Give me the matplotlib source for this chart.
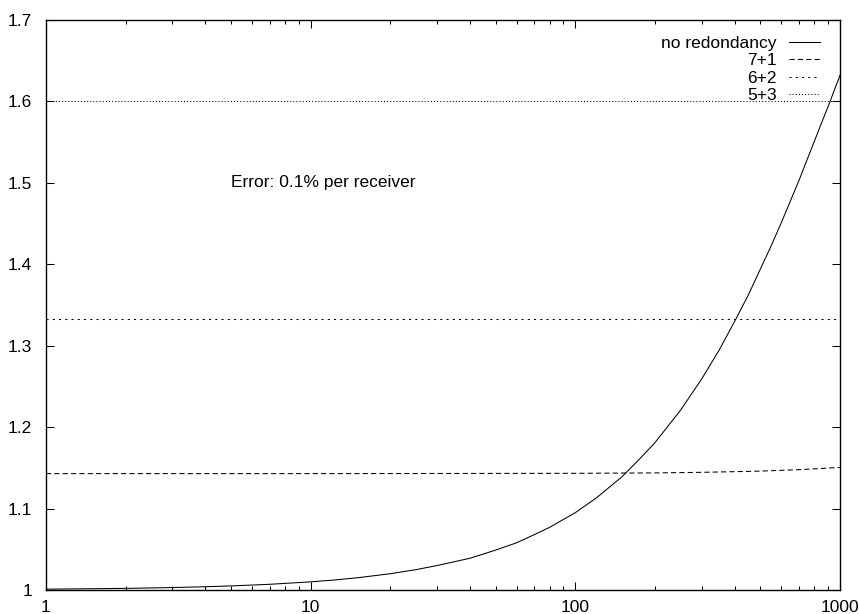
import matplotlib
matplotlib.use('Agg')
import matplotlib.pyplot as plt
from matplotlib.ticker import LogLocator, FixedLocator, NullFormatter

plt.rcParams['font.family'] = ['Liberation Sans', 'DejaVu Sans']
plt.rcParams['font.size'] = 12.5

# values
receivers = [1, 2, 3, 4, 5, 7, 10, 12, 15, 20, 25, 30, 40, 50, 60, 70, 80,
             100, 120, 150, 175, 200, 250, 300, 350, 400, 450, 500, 550,
             600, 650, 700, 750, 800, 850, 900, 950, 1000]
no_redundancy = [1.001, 1.002, 1.003, 1.004, 1.005, 1.007, 1.010, 1.012,
                 1.015, 1.020, 1.025, 1.030, 1.039, 1.049, 1.058, 1.068,
                 1.077, 1.095, 1.113, 1.139, 1.161, 1.181, 1.221, 1.259,
                 1.295, 1.330, 1.362, 1.394, 1.423, 1.451, 1.478, 1.503,
                 1.528, 1.551, 1.573, 1.593, 1.613, 1.632]

receivers_71 = [1, 10, 100, 200, 300, 500, 700, 1000]
red_7_1 = [1.1429, 1.1429, 1.1433, 1.1438, 1.1445, 1.1460, 1.1478, 1.1505]

receivers_flat = [1, 1000]
red_6_2 = [1.3333, 1.3333]
red_5_3 = [1.6, 1.6]

labels = ["no redondancy", "7+1", "6+2", "5+3"]
y_ticks = [1, 1.1, 1.2, 1.3, 1.4, 1.5, 1.6, 1.7]
y_tick_labels = ["1", "1.1", "1.2", "1.3", "1.4", "1.5", "1.6", "1.7"]
x_ticks = [1, 10, 100, 1000]
x_tick_labels = ["1", "10", "100", "1000"]

fig = plt.figure(figsize=(8.59, 6.14), dpi=100)
ax = fig.add_axes([46 / 859, 24 / 614, 794 / 859, 570 / 614])

lw = 0.75
ax.plot(receivers, no_redundancy, color='black', lw=lw, label=labels[0])
ax.plot(receivers_71, red_7_1, color='black', lw=lw, dashes=(5, 3), label=labels[1])
ax.plot(receivers_flat, red_6_2, color='black', lw=lw, dashes=(2, 4), label=labels[2])
ax.plot(receivers_flat, red_5_3, color='black', lw=lw, dashes=(1, 2), label=labels[3])

ax.set_xscale('log')
ax.set_xlim(1, 1000)
ax.set_ylim(1, 1.7)
ax.xaxis.set_major_locator(FixedLocator(x_ticks))
ax.set_xticklabels(x_tick_labels)
ax.xaxis.set_minor_locator(LogLocator(base=10, subs=range(2, 10)))
ax.xaxis.set_minor_formatter(NullFormatter())
ax.set_yticks(y_ticks)
ax.set_yticklabels(y_tick_labels)

ax.tick_params(which='both', direction='in', top=True, right=True, width=0.75)
ax.tick_params(which='major', length=6, pad=7)
ax.tick_params(which='minor', length=3)
ax.tick_params(axis='y', pad=10)
for s in ax.spines.values():
    s.set_linewidth(1.0)

ax.text(5, 1.5, "Error: 0.1% per receiver", ha='left', va='center')

ax.legend(loc='upper right', bbox_to_anchor=(0.975, 0.972), frameon=False,
          markerfirst=False, handlelength=1.8, handletextpad=0.7,
          labelspacing=0.12, borderpad=0, borderaxespad=0)

fig.savefig('out.png', dpi=100)
